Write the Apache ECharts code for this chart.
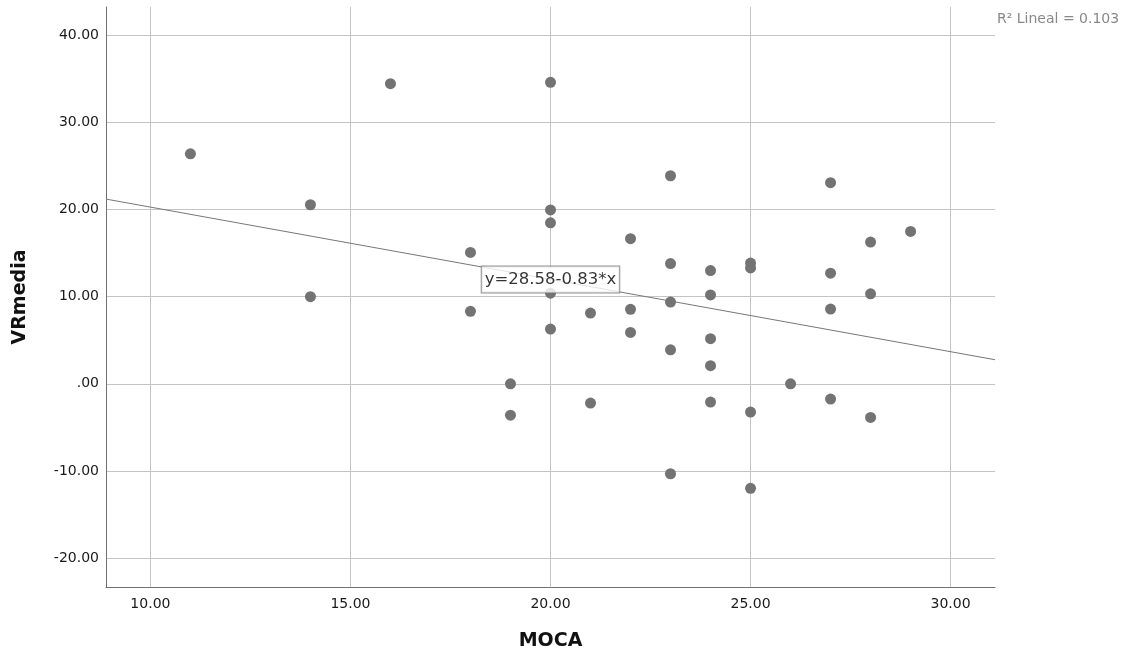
<!DOCTYPE html>
<html>
<head>
<meta charset="utf-8">
<script src="https://cdn.jsdelivr.net/npm/echarts@6/dist/echarts.min.js"></script>
<style>
html,body{margin:0;padding:0;background:#fff;}
#chart{width:1137px;height:657px;}
</style>
</head>
<body>
<div id="chart"></div>
<script>
// MOCA (x) and VRmedia (y) values
var moca = [11,14,14,16,18,18,19,19,20,20,20,20,20,21,21,22,22,22,23,23,23,23,23,24,24,24,24,24,25,25,25,25,26,27,27,27,27,28,28,28,29];
var vrmedia = [26.4,20.55,10.0,34.45,15.07,8.32,0.0,-3.6,34.6,19.95,18.48,10.4,6.28,8.12,-2.22,16.65,8.55,5.89,23.88,13.8,9.38,3.9,-10.33,13.0,10.2,5.17,2.07,-2.1,13.85,13.3,-3.25,-12.0,0.0,23.08,12.7,8.57,-1.76,16.27,10.33,-3.87,17.49];

// Fit line end points (y = 28.58 - 0.83*x) across the axis range
var fitX = [8.89, 31.11];
var fitY = [21.2, 2.76];
var eqLabelPoint = [20, 11.98];
var eqText = 'y=28.58-0.83*x';
var r2Text = 'R² Lineal = 0.103';

// Axis ranges
var xRange = [8.89, 31.11];
var yRange = [-23.33, 43.25];

var points = moca.map(function(x, i){ return [x, vrmedia[i]]; });
var fitLine = fitX.map(function(x, i){ return [x, fitY[i]]; });

function fmt(v){
  if (Math.abs(v) < 1e-9) return '.00';
  return v.toFixed(2);
}

var chart = echarts.init(document.getElementById('chart'), null, {renderer:'canvas'});
var font = 'DejaVu Sans';
chart.setOption({
  animation:false,
  backgroundColor:'#ffffff',
  grid:{left:106, right:142, top:7, bottom:70, containLabel:false},
  xAxis:{
    type:'value', min:xRange[0], max:xRange[1], splitNumber:5,
    name:'MOCA', nameLocation:'middle', nameGap:45,
    nameTextStyle:{fontFamily:font, fontWeight:'bold', fontSize:19, color:'#111'},
    axisLine:{show:true, onZero:false, lineStyle:{color:'#707070', width:1}},
    axisTick:{show:false},
    axisLabel:{formatter:fmt, fontFamily:font, fontSize:14, color:'#1a1a1a', margin:10, showMinLabel:false, showMaxLabel:false},
    splitLine:{show:true, showMinLine:false, showMaxLine:false, lineStyle:{color:'#c4c4c4', width:1}}
  },
  yAxis:{
    type:'value', min:yRange[0], max:yRange[1], splitNumber:5,
    name:'VRmedia', nameLocation:'middle', nameGap:76, nameRotate:90,
    nameTextStyle:{fontFamily:font, fontWeight:'bold', fontSize:19, color:'#111'},
    axisLine:{show:true, onZero:false, lineStyle:{color:'#707070', width:1}},
    axisTick:{show:false},
    axisLabel:{formatter:fmt, fontFamily:font, fontSize:14, color:'#1a1a1a', margin:7, showMinLabel:false, showMaxLabel:false},
    splitLine:{show:true, showMinLine:false, showMaxLine:false, lineStyle:{color:'#c4c4c4', width:1}}
  },
  series:[
    {
      type:'line', data:fitLine, showSymbol:false, symbol:'none',
      lineStyle:{color:'#777777', width:1}, z:2, silent:true
    },
    {
      type:'scatter', data:points, symbol:'circle', symbolSize:11,
      itemStyle:{color:'#737373', opacity:1}, z:3
    },
    {
      type:'scatter', data:[eqLabelPoint], symbolSize:1,
      itemStyle:{color:'rgba(0,0,0,0)'}, z:10,
      label:{show:true, position:'inside', formatter:eqText,
        fontFamily:font, fontSize:16.5, color:'#000',
        backgroundColor:'#ffffff', borderColor:'#777777', borderWidth:1,
        padding:[4,3,3,3], lineHeight:19}
    }
  ],
  graphic:[
    {type:'text', left:997, top:12, style:{text:r2Text, fontFamily:font, fontSize:14, fill:'#888888'}}
  ]
});
</script>
</body>
</html>
